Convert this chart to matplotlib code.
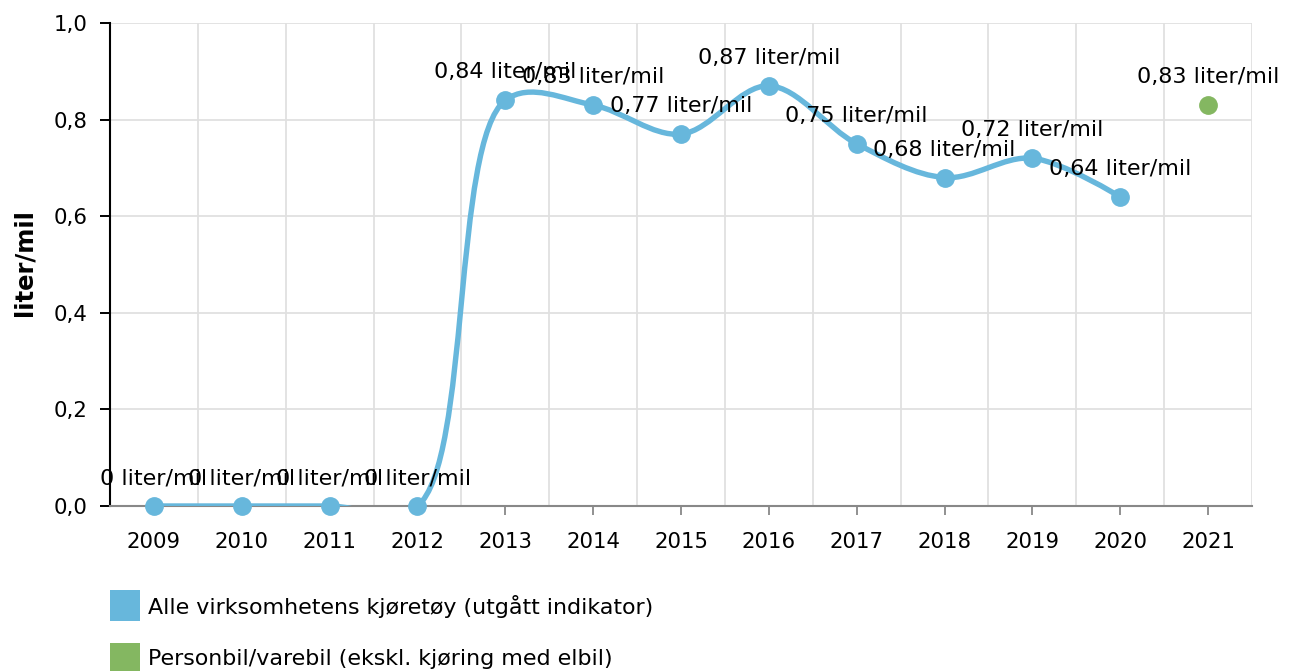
import numpy as np
import matplotlib
matplotlib.use("Agg")
import matplotlib.pyplot as plt
from matplotlib.path import Path
from matplotlib.patches import PathPatch, Rectangle

# ---------------- data ----------------
years = ["2009", "2010", "2011", "2012", "2013", "2014", "2015",
         "2016", "2017", "2018", "2019", "2020", "2021"]
all_vehicles_years = ["2009", "2010", "2011", "2012", "2013", "2014",
                      "2015", "2016", "2017", "2018", "2019", "2020"]
all_vehicles_values = [0, 0, 0, 0, 0.84, 0.83, 0.77, 0.87, 0.75, 0.68, 0.72, 0.64]
car_van_years = ["2021"]
car_van_values = [0.83]
series_names = ["Alle virksomhetens kjøretøy (utgått indikator)",
                "Personbil/varebil (ekskl. kjøring med elbil)"]
series_colors = ["#67b7dc", "#84b761"]
y_ticks = [0.0, 0.2, 0.4, 0.6, 0.8, 1.0]
y_tick_labels = ["0,0", "0,2", "0,4", "0,6", "0,8", "1,0"]
y_axis_title = "liter/mil"
unit = "liter/mil"

# ---------------- layout ----------------
W, H = 1295, 671
FS_TICK = 15.3
FS_LABEL = 16
FS_LEG = 15.9
plt.rcParams["font.family"] = ["DejaVu Sans"]
fig = plt.figure(figsize=(W / 100, H / 100), dpi=100)
left, right, top, bottom = 110, 1252, 23, 506
ax = fig.add_axes([left / W, 1 - bottom / H, (right - left) / W, (bottom - top) / H])
ax.set_xlim(-0.5, len(years) - 0.5)
ax.set_ylim(0, 1.0)

# grid
ax.set_xticks(range(len(years)))
ax.set_xticklabels(years, fontsize=FS_TICK)
ax.set_xticks(np.arange(0.5, len(years), 1.0), minor=True)
ax.set_yticks(y_ticks)
ax.set_yticklabels(y_tick_labels, fontsize=FS_TICK)
ax.grid(True, axis="x", which="minor", color="#e0e0e0", lw=1.3)
ax.grid(True, axis="y", which="major", color="#e0e0e0", lw=1.3)
ax.set_axisbelow(True)
ax.tick_params(axis="x", which="minor", length=0)
ax.tick_params(axis="x", which="major", length=6.5, width=1.3, color="#888888",
               pad=12, labelcolor="black")
ax.tick_params(axis="y", which="major", length=7.2, width=1.4, color="black",
               pad=9, labelcolor="black")
for t in ax.xaxis.get_major_ticks()[:4]:
    t.tick1line.set_visible(False)
for s in ("top", "right"):
    ax.spines[s].set_visible(False)
ax.spines["left"].set_color("black")
ax.spines["left"].set_linewidth(1.5)
ax.spines["bottom"].set_color("#888888")
ax.spines["bottom"].set_linewidth(1.5)

# ---------------- centripetal Catmull-Rom (d3 style) in pixel space ----------------
def catmull_rom_path(xs, ys, alpha=0.5):
    pts = ax.transData.transform(np.column_stack([xs, ys]))
    n = len(pts)
    verts = [pts[0]]
    codes = [Path.MOVETO]
    def dist(a, b):
        return np.hypot(*(a - b))
    for i in range(n - 1):
        p1, p2 = pts[i], pts[i + 1]
        p0 = pts[i - 1] if i > 0 else None
        p3 = pts[i + 2] if i + 2 < n else None
        l12_2a = dist(p1, p2) ** (2 * alpha)
        l12_a = np.sqrt(l12_2a)
        c1 = p1.copy()
        c2 = p2.copy()
        if p0 is not None:
            l01_2a = dist(p0, p1) ** (2 * alpha)
            l01_a = np.sqrt(l01_2a)
            if l01_a > 1e-12:
                a = 2 * l01_2a + 3 * l01_a * l12_a + l12_2a
                nn = 3 * l01_a * (l01_a + l12_a)
                c1 = (p1 * a - p0 * l12_2a + p2 * l01_2a) / nn
        if p3 is not None:
            l23_2a = dist(p2, p3) ** (2 * alpha)
            l23_a = np.sqrt(l23_2a)
            if l23_a > 1e-12:
                b = 2 * l23_2a + 3 * l23_a * l12_a + l12_2a
                m = 3 * l23_a * (l23_a + l12_a)
                c2 = (p2 * b + p1 * l23_2a - p3 * l12_2a) / m
        verts += [c1, c2, p2]
        codes += [Path.CURVE4] * 3
    verts = ax.transData.inverted().transform(np.array(verts))
    return Path(verts, codes)

x1 = np.array([years.index(y) for y in all_vehicles_years], dtype=float)
y1 = np.array(all_vehicles_values, dtype=float)
x2 = np.array([years.index(y) for y in car_van_years], dtype=float)
y2 = np.array(car_van_values, dtype=float)

path = catmull_rom_path(x1, y1)
patch = PathPatch(path, fill=False, ec=series_colors[0], lw=3.9,
                  transform=ax.transData, zorder=3, capstyle="round", joinstyle="round")
ax.add_patch(patch)

ax.plot(x1, y1, ls="none", marker="o", ms=12.5, mfc=series_colors[0],
        mec=series_colors[0], clip_on=False, zorder=4)
ax.plot(x2, y2, ls="none", marker="o", ms=12.5, mfc=series_colors[1],
        mec=series_colors[1], clip_on=False, zorder=4)

def fmt(v):
    if v == 0:
        return f"0 {unit}"
    return f"{v:.2f}".replace(".", ",") + f" {unit}"

for xx, yy in list(zip(x1, y1)) + list(zip(x2, y2)):
    ax.annotate(fmt(yy), (xx, yy), xytext=(0, 22), textcoords="offset pixels",
                ha="center", va="baseline", fontsize=FS_LABEL, color="black",
                annotation_clip=False, zorder=6)

# y axis title
fig.text(24 / W, 1 - 263 / H, y_axis_title, rotation=90, ha="center", va="center",
         fontsize=17.5, fontweight="bold")

# legend
leg_y = [606, 659]
for name, col, yc in zip(series_names, series_colors, leg_y):
    fig.add_artist(Rectangle((110 / W, 1 - (yc + 15) / H), 30 / W, 31 / H,
                             transform=fig.transFigure, color=col, lw=0))
    fig.text(148 / W, 1 - yc / H, name, ha="left", va="center", fontsize=FS_LEG)

fig.savefig("out.png", dpi=100)
